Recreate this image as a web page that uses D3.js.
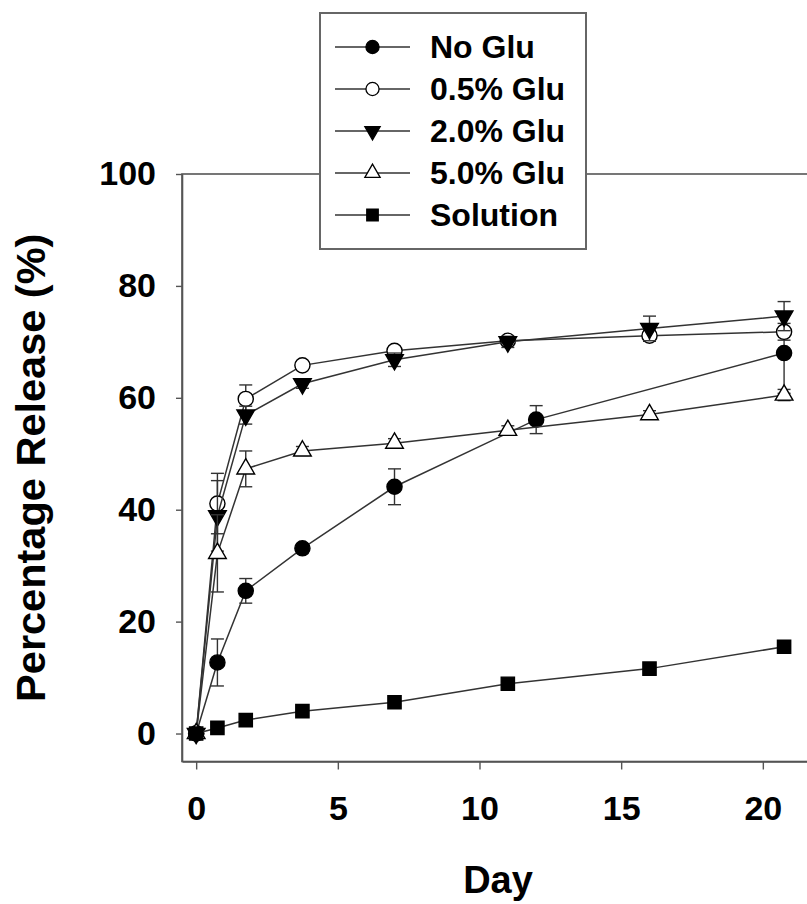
<!DOCTYPE html>
<html>
<head>
<meta charset="utf-8">
<script src="https://cdn.jsdelivr.net/npm/d3@7"></script>
<style>
	body { margin: 0; background: #fff; }
	text { font-family: "Liberation Sans", Arial, sans-serif; font-weight: bold; fill: #000; }
</style>
</head>
<body>
<div id="chart"></div>
<script>
	'use strict';

	// release data (percent, mean and error)
	var days = [0, 0.75, 1.75, 3.75, 7, 11, 16, 20.75];
	var daysNoGlu = [0, 0.75, 1.75, 3.75, 7, 12, 20.75];

	var noGlu = [0, 12.7, 25.5, 33.1, 44.1, 56.1, 68.0];
	var noGluErr = [0, 4.2, 2.2, 0.8, 3.2, 2.5, 7.2];
	var glu05 = [0, 41.1, 59.8, 65.8, 68.4, 70.2, 71.1, 71.8];
	var glu05Err = [0, 5.4, 2.5, 0.7, 0.8, 0.7, 1.0, 1.5];
	var glu20 = [0, 38.9, 56.9, 62.5, 66.8, 70.0, 72.4, 74.6];
	var glu20Err = [0, 6.3, 1.6, 0.8, 1.2, 1.0, 2.2, 2.6];
	var glu50 = [0, 32.2, 47.3, 50.5, 51.9, 54.2, 57.0, 60.5];
	var glu50Err = [0, 6.9, 3.2, 0.8, 0.8, 0.8, 0.7, 1.0];
	var solution = [0, 1.0, 2.4, 4.0, 5.6, 8.9, 11.6, 15.5];
	var solutionErr = [0, 0.3, 0.3, 0.3, 0.3, 0.4, 0.4, 0.5];

	var seriesNames = ['No Glu', '0.5% Glu', '2.0% Glu', '5.0% Glu', 'Solution'];
	var xTicks = [0, 5, 10, 15, 20];
	var yTicks = [0, 20, 40, 60, 80, 100];

	var width = 807, height = 904;
	var lineColor = '#333';
	var axisColor = '#555';

	var series = [
		{name: seriesNames[0], x: daysNoGlu, y: noGlu, err: noGluErr, symbol: d3.symbolCircle, fill: '#000', size: 180},
		{name: seriesNames[1], x: days, y: glu05, err: glu05Err, symbol: d3.symbolCircle, fill: '#fff', size: 180},
		{name: seriesNames[2], x: days, y: glu20, err: glu20Err, symbol: 'down', fill: '#000', size: 135},
		{name: seriesNames[3], x: days, y: glu50, err: glu50Err, symbol: d3.symbolTriangle, fill: '#fff', size: 135},
		{name: seriesNames[4], x: days, y: solution, err: solutionErr, symbol: d3.symbolSquare, fill: '#000', size: 175}
	];

	var svg = d3.select('#chart')
		.append('svg')
		.attr('width', width)
		.attr('height', height);

	var x = d3.scaleLinear()
		.domain([-0.5, 22])
		.range([182, 819.5]);
	var y = d3.scaleLinear()
		.domain([-5, 100])
		.range([761.5, 174]);

	function markerPath(s, size) {
		if (s === 'down') {
			return d3.symbol().type(d3.symbolTriangle).size(size)();
		}
		return d3.symbol().type(s).size(size)();
	}

	function markerTransform(s, px, py) {
		if (s === 'down') {
			return 'translate(' + px + ',' + py + ') rotate(180)';
		}
		return 'translate(' + px + ',' + py + ')';
	}

	// plot frame (right side runs off the picture)
	svg.append('rect')
		.attr('x', x(-0.5))
		.attr('y', y(100))
		.attr('width', x(22) - x(-0.5))
		.attr('height', y(-5) - y(100))
		.attr('fill', 'none')
		.attr('stroke', axisColor)
		.attr('stroke-width', 1.6);

	// y-axis
	var yAxis = svg.append('g')
		.attr('transform', 'translate(' + x(-0.5) + ',0)')
		.call(d3.axisLeft(y).tickValues(yTicks).tickSize(6).tickSizeOuter(0).tickPadding(20));
	// x-axis
	var xAxis = svg.append('g')
		.attr('transform', 'translate(0,' + y(-5) + ')')
		.call(d3.axisBottom(x).tickValues(xTicks).tickSize(8).tickSizeOuter(0).tickPadding(26));

	[yAxis, xAxis].forEach(function (ax) {
		ax.select('.domain').attr('stroke', axisColor).attr('stroke-width', 1.6);
		ax.selectAll('.tick line').attr('stroke', axisColor).attr('stroke-width', 1.4);
		ax.selectAll('.tick text')
			.attr('fill', '#000')
			.style('font-size', '34px')
			.style('font-family', '"Liberation Sans", Arial, sans-serif')
			.style('font-weight', 'bold');
	});

	// axis titles
	svg.append('text')
		.attr('transform', 'translate(45,' + ((y(100) + y(-5)) / 2) + ') rotate(-90)')
		.attr('text-anchor', 'middle')
		.style('font-size', '41.5px')
		.text('Percentage Release (%)');

	svg.append('text')
		.attr('x', 498)
		.attr('y', 893)
		.attr('text-anchor', 'middle')
		.style('font-size', '38px')
		.text('Day');

	var line = d3.line()
		.x(function (d) { return x(d.x); })
		.y(function (d) { return y(d.y); });

	series.forEach(function (s) {
		var pts = s.x.map(function (d, i) {
			return {x: d, y: s.y[i], e: s.err[i]};
		});
		var g = svg.append('g');

		// error bars
		var eb = g.selectAll('.err')
			.data(pts.filter(function (p) { return p.e > 0; }))
			.enter()
			.append('g')
			.attr('stroke', lineColor)
			.attr('stroke-width', 1.4);
		eb.append('line')
			.attr('x1', function (p) { return x(p.x); })
			.attr('x2', function (p) { return x(p.x); })
			.attr('y1', function (p) { return y(p.y - p.e); })
			.attr('y2', function (p) { return y(p.y + p.e); });
		eb.append('line')
			.attr('x1', function (p) { return x(p.x) - 6.5; })
			.attr('x2', function (p) { return x(p.x) + 6.5; })
			.attr('y1', function (p) { return y(p.y + p.e); })
			.attr('y2', function (p) { return y(p.y + p.e); });
		eb.append('line')
			.attr('x1', function (p) { return x(p.x) - 6.5; })
			.attr('x2', function (p) { return x(p.x) + 6.5; })
			.attr('y1', function (p) { return y(p.y - p.e); })
			.attr('y2', function (p) { return y(p.y - p.e); });

		g.append('path')
			.datum(pts)
			.attr('fill', 'none')
			.attr('stroke', lineColor)
			.attr('stroke-width', 1.5)
			.attr('d', line);

		g.selectAll('.mark')
			.data(pts)
			.enter()
			.append('path')
			.attr('d', markerPath(s.symbol, s.size))
			.attr('transform', function (p) { return markerTransform(s.symbol, x(p.x), y(p.y)); })
			.attr('fill', s.fill)
			.attr('stroke', '#000')
			.attr('stroke-width', 1.4);
	});

	// legend
	var legend = svg.append('g');
	legend.append('rect')
		.attr('x', 320)
		.attr('y', 13)
		.attr('width', 266)
		.attr('height', 236)
		.attr('fill', '#fff')
		.attr('stroke', '#666')
		.attr('stroke-width', 2);

	var rows = legend.selectAll('.row')
		.data(series)
		.enter()
		.append('g')
		.attr('transform', function (d, i) { return 'translate(0,' + (47 + i * 42) + ')'; });
	rows.append('line')
		.attr('x1', 335)
		.attr('x2', 410)
		.attr('stroke', lineColor)
		.attr('stroke-width', 1.5);
	rows.append('path')
		.attr('d', function (d) { return markerPath(d.symbol, d.size * 0.75); })
		.attr('transform', function (d) { return markerTransform(d.symbol, 372.5, 0); })
		.attr('fill', function (d) { return d.fill; })
		.attr('stroke', '#000')
		.attr('stroke-width', 1.3);
	rows.append('text')
		.attr('x', 430)
		.attr('y', 11)
		.style('font-size', '32px')
		.text(function (d) { return d.name; });
</script>
</body>
</html>
